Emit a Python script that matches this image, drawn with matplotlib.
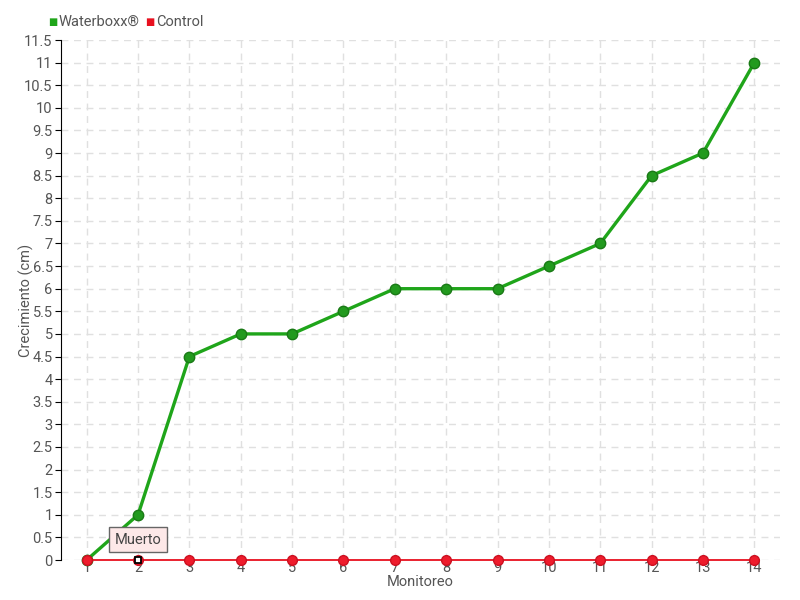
import matplotlib
matplotlib.use("Agg")
import matplotlib.pyplot as plt
import numpy as np

monitoreo = list(range(1, 15))
waterboxx = [0, 1, 4.5, 5, 5, 5.5, 6, 6, 6, 6.5, 7, 8.5, 9, 11]
control = [0] * 14
yticks = [i * 0.5 for i in range(24)]

plt.rcParams['font.family'] = ['Roboto', 'DejaVu Sans']
txt = '#555555'
fs = 10.5

fig = plt.figure(figsize=(8, 6), dpi=100)
ax = fig.add_axes([61/800, 1 - 560/600, (780-61)/800, (560-40)/600])

ax.set_xlim(0.5, 14.5)
ax.set_ylim(0, 11.5)
ax.set_xticks(monitoreo)
ax.set_yticks(yticks)
ax.set_yticklabels([('%g' % v) for v in yticks])
ax.grid(True, color='#e0e0e0', linestyle=(0, (5, 4)), linewidth=1)
ax.set_axisbelow(True)
for s in ['top', 'right']:
    ax.spines[s].set_visible(False)
ax.spines['bottom'].set_visible(False)
ax.spines['left'].set_color('black')
ax.tick_params(axis='both', colors=txt, labelsize=fs, length=4)
ax.tick_params(axis='y', color='black', pad=2)
ax.tick_params(axis='x', length=0, pad=1)

ax.plot(monitoreo, waterboxx, color='#1fa51a', lw=2.4, marker='o', ms=7.5,
        mfc='#229a1e', mec='#1a7a16', mew=1, zorder=3, clip_on=False)
ax.plot(monitoreo, control, color='#e8101f', lw=1.3, marker='o', ms=7,
        mfc='#ee1c2c', mec='#cc1020', mew=1, zorder=4, clip_on=False)
ax.plot([2], [0], marker='s', ms=5, mfc='white', mec='black', mew=1.3, zorder=6, clip_on=False)

ax.set_xlabel('Monitoreo', color=txt, fontsize=fs, labelpad=0)
ax.set_ylabel('Crecimiento (cm)', color=txt, fontsize=fs)
ax.yaxis.set_label_coords(-0.038, 0.5)

ax.annotate('Muerto', xy=(2, 0), xytext=(2, 0.45), ha='center', va='center',
            fontsize=fs, color='#444444', zorder=7,
            bbox=dict(boxstyle='square,pad=0.4', fc='#fde8e8', ec='#666666', lw=1))

# legend
fig.canvas.draw()
r = fig.canvas.get_renderer()
y = 1 - 22/600
fig.text(48/800, y, '■', color='#1fa51a', fontsize=7, va='center')
t1 = fig.text(59/800, y, 'Waterboxx®', color=txt, fontsize=fs, va='center')
x1 = t1.get_window_extent(r).x1
fig.text((x1 + 5)/800, y, '■', color='#e8101f', fontsize=7, va='center')
fig.text((x1 + 16)/800, y, 'Control', color=txt, fontsize=fs, va='center')

fig.savefig('out.png', dpi=100)
